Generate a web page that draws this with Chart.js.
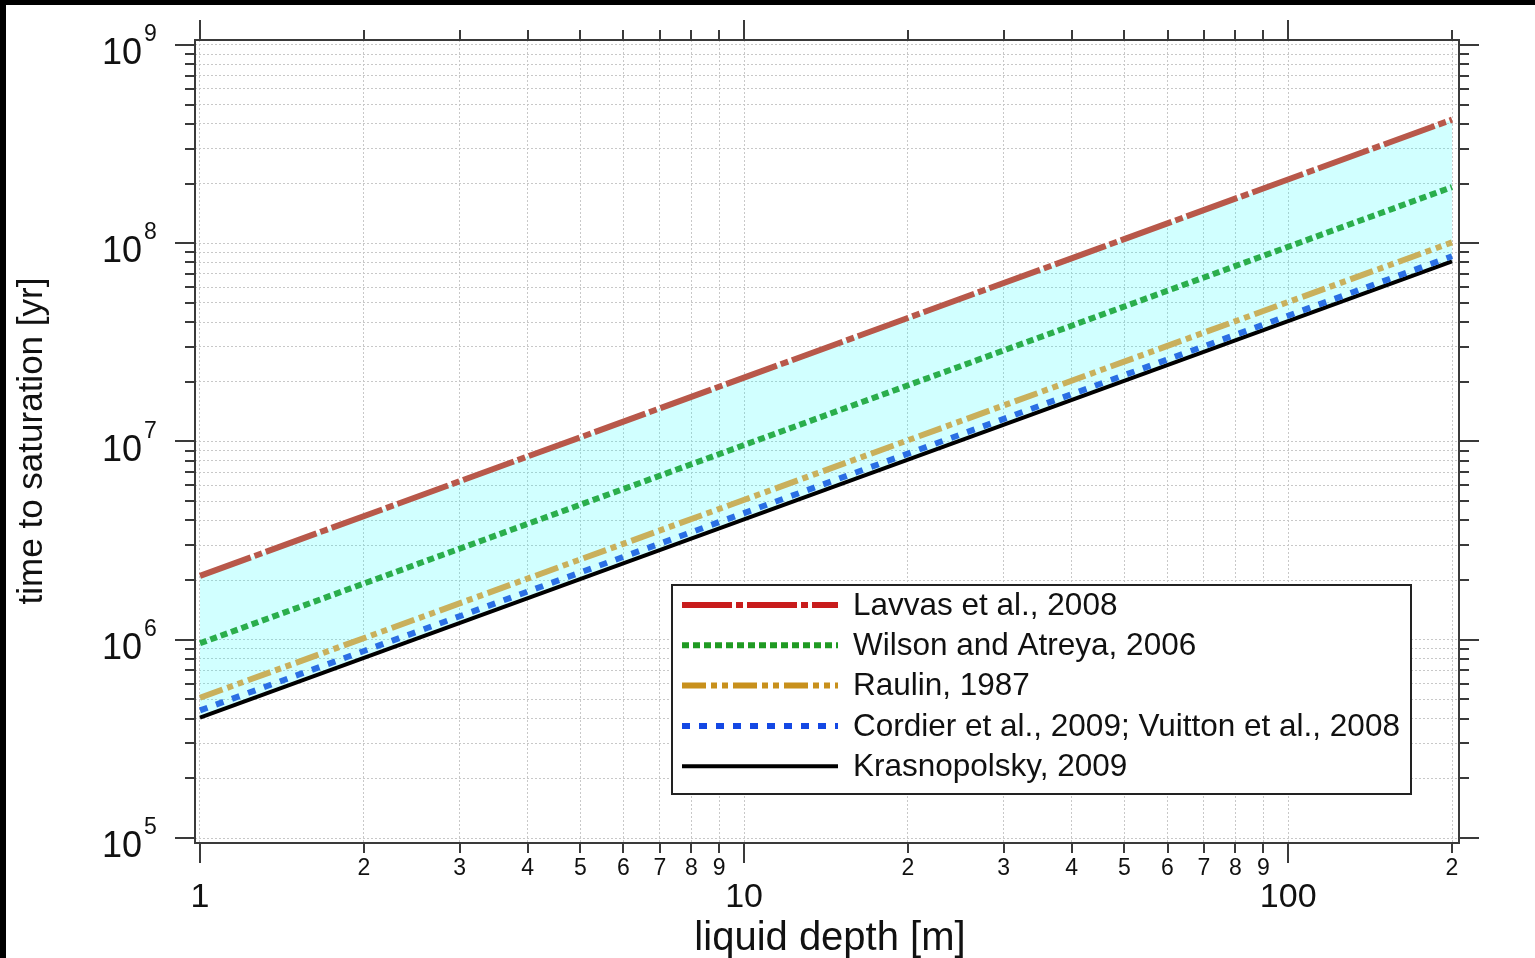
<!DOCTYPE html>
<html>
<head>
<meta charset="utf-8">
<script src="https://cdn.jsdelivr.net/npm/chart.js@4.4.1/dist/chart.umd.min.js"></script>
<style>
    html, body { margin: 0; padding: 0; background: #fff; }
    canvas { display: block; }
</style>
</head>
<body>
<canvas id="satChart" width="1535" height="958"></canvas>
<script>
// liquid depth [m] at the two ends of each line
const depth = [1, 200];

// time to saturation [yr]
const lavvas = [2.1e6, 4.2e8];
const wilson = [9.6e5, 1.92e8];
const raulin = [5.1e5, 1.01e8];
const cordier = [4.4e5, 8.6e7];
const krasnopolsky = [4.05e5, 8.1e7];

const seriesLabels = [
    "Lavvas et al., 2008",
    "Wilson and Atreya, 2006",
    "Raulin, 1987",
    "Cordier et al., 2009; Vuitton et al., 2008",
    "Krasnopolsky, 2009"
];

// tick values and labels
const xTicks = [1, 2, 3, 4, 5, 6, 7, 8, 9, 10, 20, 30, 40, 50, 60, 70, 80, 90, 100, 200];
const xTickLabels = ["1", "2", "3", "4", "5", "6", "7", "8", "9", "10",
    "2", "3", "4", "5", "6", "7", "8", "9", "100", "2"];
const xMajor = [1, 10, 100];

const yMajor = [1e5, 1e6, 1e7, 1e8, 1e9];
const yExponents = ["5", "6", "7", "8", "9"];
const yMinorSteps = [2, 3, 4, 5, 6, 7, 8, 9];

const yTicks = [];
yMajor.forEach(function (m, i) {
    yTicks.push(m);
    if (i < yMajor.length - 1) {
        yMinorSteps.forEach(s => yTicks.push(m * s));
    }
});

const FONT = "'Liberation Sans', Arial, Helvetica, sans-serif";

const plotColors = ["#b8584a", "#2aae4c", "#c9b05c", "#2a6fe4", "#000000"];
const legendColors = ["#c81c1c", "#1f9a22", "#c8901c", "#1448e4", "#000000"];
const dashes = [
    [54, 4, 8, 4],
    [7, 4],
    [24, 5, 6, 5, 6, 5],
    [8, 9],
    []
];
const widths = [6, 6, 6, 6, 4];

const allSeries = [lavvas, wilson, raulin, cordier, krasnopolsky];

const datasets = allSeries.map(function (values, i) {
    return {
        label: seriesLabels[i],
        data: depth.map((d, j) => ({ x: d, y: values[j] })),
        borderColor: plotColors[i],
        borderWidth: widths[i],
        borderDash: dashes[i],
        borderCapStyle: "butt",
        pointRadius: 0,
        tension: 0,
        fill: i === 0 ? 4 : false,
        backgroundColor: "rgba(0, 255, 255, 0.18)"
    };
});

const framePlugin = {
    id: "framePlugin",

    beforeDraw(chart) {
        const ctx = chart.ctx;
        ctx.save();
        ctx.fillStyle = "#ffffff";
        ctx.fillRect(0, 0, chart.width, chart.height);
        ctx.fillStyle = "#000000";
        ctx.fillRect(0, 0, chart.width, 5);
        ctx.fillRect(0, 0, 6, chart.height);
        ctx.restore();
    },

    afterDraw(chart) {
        const ctx = chart.ctx;
        const area = chart.chartArea;
        const xs = chart.scales.x;
        const ys = chart.scales.y;

        ctx.save();

        // tick marks on all four sides
        ctx.strokeStyle = "#3a3a3a";
        ctx.lineWidth = 2;
        ctx.beginPath();
        xTicks.forEach(function (v) {
            const px = Math.round(xs.getPixelForValue(v));
            const len = xMajor.includes(v) ? 20 : 10;
            ctx.moveTo(px, area.bottom);
            ctx.lineTo(px, area.bottom + len);
            ctx.moveTo(px, area.top);
            ctx.lineTo(px, area.top - len);
        });
        yTicks.forEach(function (v) {
            const py = Math.round(ys.getPixelForValue(v));
            const len = yMajor.includes(v) ? 20 : 10;
            ctx.moveTo(area.left, py);
            ctx.lineTo(area.left - len, py);
            ctx.moveTo(area.right, py);
            ctx.lineTo(area.right + len, py);
        });
        ctx.stroke();

        // frame
        ctx.strokeRect(area.left, area.top, area.right - area.left, area.bottom - area.top);

        // x tick labels
        ctx.fillStyle = "#111";
        ctx.textAlign = "center";
        ctx.textBaseline = "middle";
        xTicks.forEach(function (v, i) {
            const px = xs.getPixelForValue(v);
            if (xMajor.includes(v)) {
                ctx.font = "34px " + FONT;
                ctx.fillText(xTickLabels[i], px, area.bottom + 55);
            } else {
                ctx.font = "23px " + FONT;
                ctx.fillText(xTickLabels[i], px, area.bottom + 26);
            }
        });

        // y tick labels, 10 with superscript exponent
        ctx.textBaseline = "alphabetic";
        yMajor.forEach(function (v, i) {
            const py = ys.getPixelForValue(v);
            ctx.font = "36px " + FONT;
            ctx.textAlign = "right";
            ctx.fillText("10", area.left - 53, py + 19);
            ctx.font = "23px " + FONT;
            ctx.textAlign = "left";
            ctx.fillText(yExponents[i], area.left - 51, py - 4);
        });

        // axis titles
        ctx.textAlign = "center";
        ctx.font = "40px " + FONT;
        ctx.fillText("liquid depth [m]", 830, 950);

        ctx.save();
        ctx.translate(42, 441);
        ctx.rotate(-Math.PI / 2);
        ctx.font = "35px " + FONT;
        ctx.fillText("time to saturation [yr]", 0, 0);
        ctx.restore();

        // legend
        const box = { left: 672, top: 585, right: 1411, bottom: 794 };
        ctx.fillStyle = "#ffffff";
        ctx.fillRect(box.left, box.top, box.right - box.left, box.bottom - box.top);
        ctx.strokeStyle = "#222";
        ctx.lineWidth = 2;
        ctx.setLineDash([]);
        ctx.strokeRect(box.left, box.top, box.right - box.left, box.bottom - box.top);

        chart.data.datasets.forEach(function (ds, i) {
            const cy = box.top + 20 + i * 40.3;
            ctx.beginPath();
            ctx.strokeStyle = legendColors[i];
            ctx.lineWidth = widths[i];
            ctx.lineCap = "butt";
            ctx.setLineDash(i === 0 ? [50, 4, 7, 4] : dashes[i]);
            ctx.moveTo(682, cy);
            ctx.lineTo(838, cy);
            ctx.stroke();
            ctx.setLineDash([]);

            ctx.fillStyle = "#111";
            ctx.textAlign = "left";
            ctx.textBaseline = "middle";
            ctx.font = "31.5px " + FONT;
            ctx.fillText(ds.label, 853, cy + 1);
        });

        ctx.restore();
    }
};

const chartElement = document.getElementById("satChart");

new Chart(chartElement, {
    type: "line",

    data: {
        datasets: datasets
    },

    options: {
        responsive: false,
        animation: false,
        devicePixelRatio: 1,

        layout: {
            padding: { top: 40, right: 76, left: 0, bottom: 0 }
        },

        plugins: {
            legend: { display: false },
            tooltip: { enabled: false },
            filler: { drawTime: "beforeDatasetsDraw" }
        },

        scales: {
            x: {
                type: "logarithmic",
                min: 0.9791,
                max: 206,
                afterBuildTicks: function (scale) {
                    scale.ticks = xTicks.map(v => ({ value: v }));
                },
                afterFit: function (scale) {
                    scale.height = 115;
                },
                ticks: { display: false },
                grid: {
                    drawTicks: false,
                    color: "#c8c8c8",
                    lineWidth: 1
                },
                border: { display: false, dash: [2, 2] }
            },

            y: {
                type: "logarithmic",
                min: Math.pow(10, 4.97478),
                max: Math.pow(10, 9.02522),
                afterBuildTicks: function (scale) {
                    scale.ticks = yTicks.map(v => ({ value: v }));
                },
                afterFit: function (scale) {
                    scale.width = 195;
                },
                ticks: { display: false },
                grid: {
                    drawTicks: false,
                    color: "#c8c8c8",
                    lineWidth: 1
                },
                border: { display: false, dash: [2, 2] }
            }
        }
    },

    plugins: [framePlugin]
});
</script>
</body>
</html>
